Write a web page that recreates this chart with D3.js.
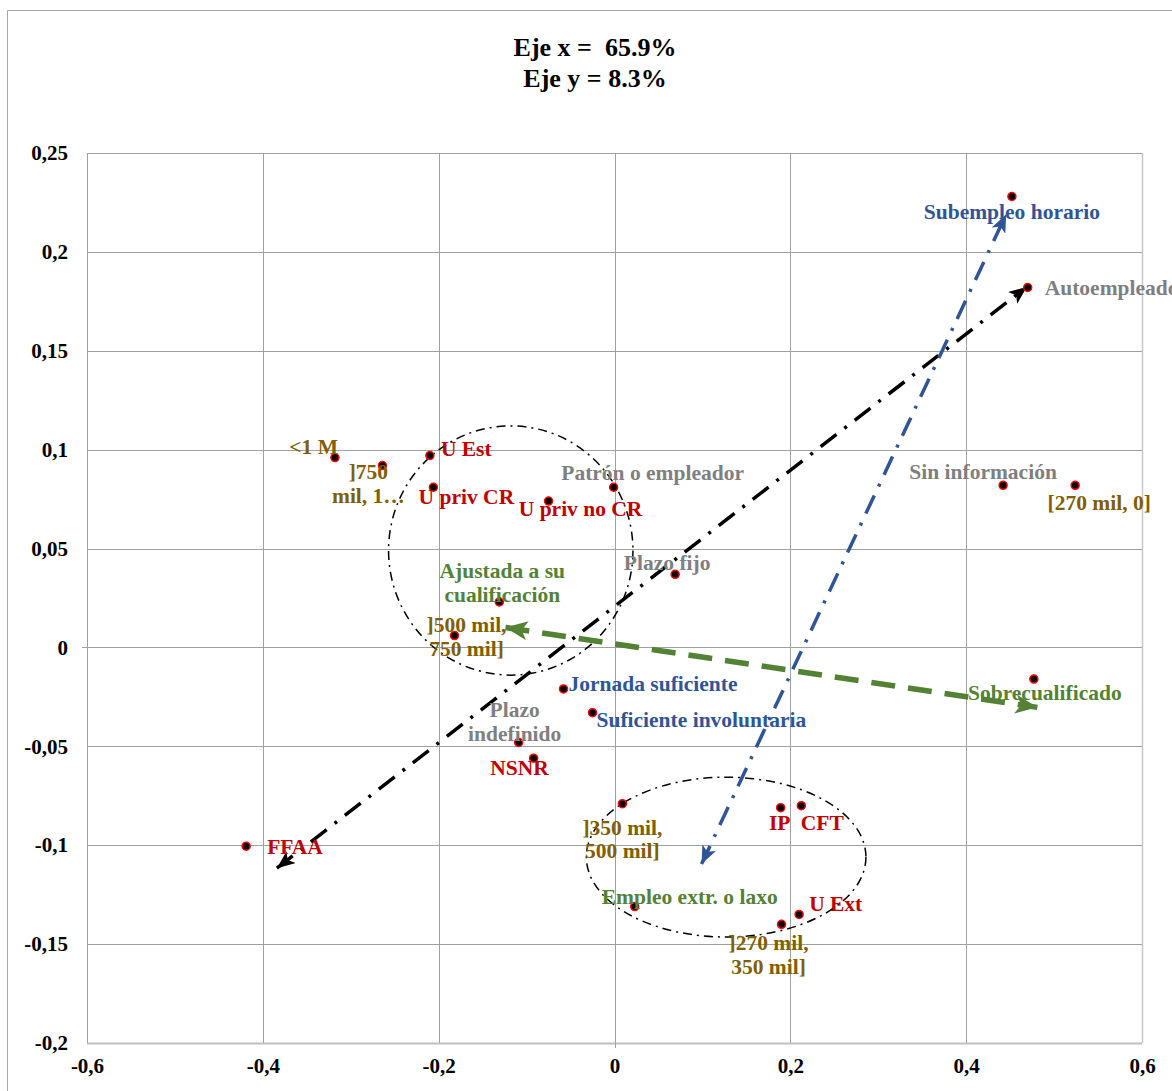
<!DOCTYPE html>
<html><head><meta charset="utf-8">
<script src="https://cdn.jsdelivr.net/npm/d3@7"></script>
<style>body{margin:0;background:#fff}svg{display:block}text{white-space:pre}</style>
</head><body>
<svg id="c" width="1172" height="1091"></svg>
<script>
// ---- data ----
const names = ["<1 M","]750 mil, 1…","U Est","U priv CR","U priv no CR","Patrón o empleador","Plazo fijo",
 "Ajustada a su cualificación","]500 mil, 750 mil]","Jornada suficiente","Suficiente involuntaria","Plazo indefinido",
 "NSNR","FFAA","]350 mil, 500 mil]","IP","CFT","Empleo extr. o laxo","U Ext","]270 mil, 350 mil]",
 "Subempleo horario","Autoempleado","Sin información","[270 mil, 0]","Sobrecualificado"];
const xVals = [-0.318,-0.264,-0.210,-0.206,-0.075,-0.001,0.069,-0.131,-0.182,-0.058,-0.025,-0.109,
 -0.092,-0.419,0.009,0.189,0.2125,0.023,0.210,0.190,0.452,0.470,0.442,0.524,0.477];
const yVals = [0.096,0.092,0.097,0.081,0.074,0.081,0.037,0.023,0.006,-0.021,-0.033,-0.048,
 -0.056,-0.1005,-0.079,-0.081,-0.080,-0.131,-0.135,-0.140,0.228,0.182,0.082,0.082,-0.016];
const groups = ["ing","ing","inst","inst","inst","emp","emp","cual","ing","jor","jor","emp",
 "inst","inst","ing","inst","inst","cual","inst","ing","jor","emp","emp","ing","cual"];
const xTicks = [-0.6,-0.4,-0.2,0,0.2,0.4,0.6];
const yTicks = [0.25,0.2,0.15,0.1,0.05,0,-0.05,-0.1,-0.15,-0.2];
const titleLines = ["Eje x =  65.9%","Eje y = 8.3%"];
// arrows: [x1,y1,x2,y2]
const arrows = [
 {k:"blk", c:[-0.384,-0.1116,0.469,0.1823]},
 {k:"jor", c:[0.099,-0.1095,0.4455,0.219]},
 {k:"cual",c:[-0.124,0.0101,0.481,-0.0303]}
];
// ellipses: cx, cy, rx, ry (data units)
const ellipses = [[-0.118,0.049,0.139,0.063],[0.127,-0.106,0.159,0.0404]];

// ---- layout / style ----
const colors = {ing:"#7F6000", inst:"#C00000", emp:"#7F7F7F", jor:"#2F5597", cual:"#548235", blk:"#000000"};
// label placement: [anchor, dx, [dy per line], lines]
const place = [
 ["end",3,[-4]],["middle",-14,[14,38],["]750","mil, 1…"]],["start",11,[0]],["middle",33,[17]],["middle",32,[15]],
 ["middle",39,[-7]],["middle",-8,[-4]],["middle",3,[-24,0],["Ajustada a su","cualificación"]],
 ["middle",12,[-4,20],["]500 mil,","750 mil]"]],["start",5,[2]],["start",4,[14]],
 ["middle",-4,[-25,-1],["Plazo","indefinido"]],["middle",-14,[17]],["start",21,[8]],
 ["middle",0,[31,54],["]350 mil,","500 mil]"]],["middle",-1,[22]],["middle",21,[24]],["middle",55,[-3]],
 ["start",10,[-3]],["middle",-13,[26,50],["]270 mil,","350 mil]"]],["middle",0,[22]],["start",17,[8]],
 ["middle",-20,[-6]],["middle",24,[25]],["middle",11,[21]]
];
const L = 87, R = 1142, T = 153, B = 1043;
const x = d3.scaleLinear().domain([-0.6,0.6]).range([L,R]);
const y = d3.scaleLinear().domain([-0.2,0.25]).range([B,T]);
const svg = d3.select("#c");
const serif = "'Liberation Serif','Times New Roman',serif";

// outer border
svg.append("path").attr("d","M7.5,1091 V10.5 H1172").attr("fill","none").attr("stroke","#A6A6A6").attr("stroke-width",1);

// title
svg.append("g").selectAll("text").data(titleLines).join("text")
 .attr("x",595).attr("y",(d,i)=>56+i*31).attr("text-anchor","middle").attr("xml:space","preserve")
 .attr("font-family",serif).attr("font-weight","bold").attr("font-size",26).attr("fill","#000").text(d=>d);

// grid
const g = svg.append("g");
g.selectAll("line.v").data(xTicks).join("line").attr("class","v")
 .attr("x1",d=>Math.round(x(d))+0.5).attr("x2",d=>Math.round(x(d))+0.5).attr("y1",T).attr("y2",B)
 .attr("stroke",(d,i)=>i===xTicks.length-1?"#C8C8C8":"#A0A0A0").attr("stroke-width",(d,i)=>i===xTicks.length-1?1.5:1);
g.selectAll("line.h").data(yTicks).join("line").attr("class","h")
 .attr("y1",d=>Math.round(y(d))+0.5).attr("y2",d=>Math.round(y(d))+0.5).attr("x1",L).attr("x2",R)
 .attr("stroke",(d,i)=>i===yTicks.length-1?"#C0C0C0":"#A0A0A0").attr("stroke-width",(d,i)=>i===yTicks.length-1?2:1);
// small ticks at zero
g.append("line").attr("x1",L-5).attr("x2",L).attr("y1",Math.round(y(0))+0.5).attr("y2",Math.round(y(0))+0.5).attr("stroke","#A0A0A0");
g.append("line").attr("x1",Math.round(x(0))+0.5).attr("x2",Math.round(x(0))+0.5).attr("y1",B).attr("y2",B+5).attr("stroke","#A0A0A0");

// axes labels
const fmt = d => d===0 ? "0" : String(d).replace(".",",");
const yAxis = d3.axisLeft(y).tickValues(yTicks).tickFormat(fmt).tickSize(0).tickPadding(19);
const ya = svg.append("g").attr("transform",`translate(${L},0)`).call(yAxis);
const xAxis = d3.axisBottom(x).tickValues(xTicks).tickFormat(fmt).tickSize(0).tickPadding(15);
const xa = svg.append("g").attr("transform",`translate(0,${B})`).call(xAxis);
[ya,xa].forEach(a=>{a.select(".domain").remove();
 a.selectAll("text").attr("font-family",serif).attr("font-weight","bold").attr("font-size",21).attr("fill","#000");});

// ellipses
svg.append("g").selectAll("ellipse").data(ellipses).join("ellipse")
 .attr("cx",d=>x(d[0])).attr("cy",d=>y(d[1]))
 .attr("rx",d=>x(d[2])-x(0)).attr("ry",d=>y(0)-y(d[3]))
 .attr("fill","none").attr("stroke","#000").attr("stroke-width",1.5).attr("stroke-dasharray","9,5,2,5");

// arrow markers
const defs = svg.append("defs");
const arrowStyle = {blk:{w:3.5,dash:"20,10,3,10",h:18,hw:15}, jor:{w:3.5,dash:"20,10,3,10",h:18,hw:15}, cual:{w:5.5,dash:"24,13",h:22,hw:19}};
Object.keys(arrowStyle).forEach(k=>{
 const s = arrowStyle[k];
 defs.append("marker").attr("id","m-"+k).attr("markerUnits","userSpaceOnUse")
  .attr("viewBox",`0 0 ${s.h} ${s.hw}`).attr("refX",s.h).attr("refY",s.hw/2)
  .attr("markerWidth",s.h).attr("markerHeight",s.hw).attr("orient","auto-start-reverse")
  .append("path").attr("d",`M0,0 L${s.h},${s.hw/2} L0,${s.hw} L${s.h*0.25},${s.hw/2} Z`).attr("fill",colors[k]);
});
svg.append("g").selectAll("line").data(arrows).join("line")
 .attr("x1",d=>x(d.c[0])).attr("y1",d=>y(d.c[1])).attr("x2",d=>x(d.c[2])).attr("y2",d=>y(d.c[3]))
 .attr("stroke",d=>colors[d.k]).attr("stroke-width",d=>arrowStyle[d.k].w)
 .attr("stroke-dasharray",d=>arrowStyle[d.k].dash)
 .attr("marker-start",d=>`url(#m-${d.k})`).attr("marker-end",d=>`url(#m-${d.k})`);

// points
svg.append("g").selectAll("circle").data(names).join("circle")
 .attr("cx",(d,i)=>x(xVals[i])).attr("cy",(d,i)=>y(yVals[i])).attr("r",4)
 .attr("fill","#000").attr("stroke","#FF0000").attr("stroke-width",1.5);

// labels
const lg = svg.append("g");
names.forEach((n,i)=>{
 const p = place[i];
 const lines = p[3] || [n];
 const t = lg.append("text").attr("text-anchor",p[0]).attr("font-family",serif).attr("font-weight","bold")
  .attr("font-size",21.5).attr("fill",colors[groups[i]]);
 lines.forEach((ln,j)=>{
  t.append("tspan").attr("x",x(xVals[i])+p[1]).attr("y",y(yVals[i])+p[2][j]).text(ln);
 });
});
</script>
</body></html>
